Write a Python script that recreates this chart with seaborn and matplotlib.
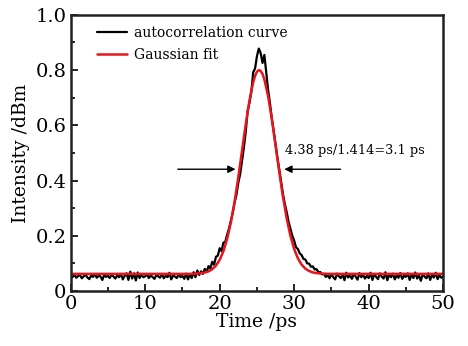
import matplotlib
matplotlib.use("Agg")
import matplotlib.pyplot as plt
import numpy as np
import pandas as pd
import seaborn as sns

# autocorrelation trace, sampled every 0.25 ps from 0 to 50 ps
trace_step = 0.25
trace_values = [
    0.055, 0.050, 0.060, 0.048, 0.054, 0.058, 0.046, 0.053, 0.059, 0.049,
    0.043, 0.056, 0.051, 0.061, 0.048, 0.055, 0.053, 0.040, 0.058, 0.051,
    0.055, 0.047, 0.060, 0.052, 0.045, 0.057, 0.050, 0.062, 0.042, 0.055,
    0.064, 0.040, 0.070, 0.045, 0.064, 0.038, 0.067, 0.047, 0.059, 0.050,
    0.053, 0.060, 0.047, 0.057, 0.050, 0.044, 0.058, 0.053, 0.048, 0.062,
    0.046, 0.055, 0.050, 0.066, 0.042, 0.057, 0.052, 0.047, 0.060, 0.050,
    0.055, 0.044, 0.063, 0.042, 0.060, 0.047, 0.068, 0.050, 0.074, 0.058,
    0.071, 0.062, 0.080, 0.070, 0.090, 0.081, 0.106, 0.095, 0.124, 0.128,
    0.155, 0.144, 0.175, 0.178, 0.204, 0.226, 0.254, 0.283, 0.320, 0.348,
    0.392, 0.423, 0.472, 0.520, 0.577, 0.652, 0.682, 0.722, 0.792, 0.806,
    0.850, 0.878, 0.862, 0.826, 0.855, 0.790, 0.728, 0.680, 0.625, 0.580,
    0.530, 0.482, 0.440, 0.395, 0.350, 0.315, 0.285, 0.250, 0.225, 0.200,
    0.182, 0.158, 0.152, 0.136, 0.130, 0.116, 0.114, 0.100, 0.099, 0.088,
    0.089, 0.078, 0.079, 0.068, 0.069, 0.060, 0.062, 0.051, 0.058, 0.046,
    0.061, 0.050, 0.042, 0.063, 0.053, 0.047, 0.060, 0.039, 0.066, 0.049,
    0.057, 0.044, 0.062, 0.052, 0.041, 0.065, 0.050, 0.058, 0.045, 0.055,
    0.047, 0.066, 0.040, 0.061, 0.051, 0.043, 0.064, 0.052, 0.045, 0.068,
    0.039, 0.060, 0.050, 0.063, 0.042, 0.057, 0.048, 0.065, 0.044, 0.055,
    0.051, 0.064, 0.040, 0.060, 0.047, 0.067, 0.045, 0.057, 0.037, 0.061,
    0.052, 0.046, 0.064, 0.040, 0.058, 0.049, 0.066, 0.043, 0.057, 0.048,
    0.053,
]

# Gaussian fit
fit_time = [0, 15, 16, 17, 18, 18.5, 19, 19.5, 20, 20.5, 21, 21.5, 22, 22.5,
            23, 23.5, 24, 24.5, 24.75, 25, 25.25, 25.5, 25.75, 26, 26.5, 27,
            27.5, 28, 28.5, 29, 29.5, 30, 30.5, 31, 31.5, 32, 32.5, 33, 34,
            35, 50]
fit_values = [0.062, 0.062, 0.062, 0.063, 0.0666, 0.071, 0.0788, 0.0919,
              0.1127, 0.144, 0.189, 0.248, 0.323, 0.412, 0.508, 0.604, 0.690,
              0.756, 0.779, 0.794, 0.800, 0.797, 0.786, 0.766, 0.706, 0.622,
              0.527, 0.430, 0.340, 0.262, 0.199, 0.152, 0.118, 0.0954, 0.0809,
              0.0722, 0.0673, 0.0646, 0.0625, 0.062, 0.062]

x_ticks = [0, 10, 20, 30, 40, 50]
y_ticks = [0, 0.2, 0.4, 0.6, 0.8, 1.0]
y_tick_labels = ["0", "0.2", "0.4", "0.6", "0.8", "1.0"]

fwhm_label = "4.38 ps/1.414=3.1 ps"
fwhm_level = 0.441
fwhm_left = (14.0, 22.5)
fwhm_right = (36.6, 28.3)


def main():
    sns.set_theme(style="ticks")
    plt.rcParams["font.family"] = ["DejaVu Serif"]
    plt.rcParams["text.color"] = "black"
    plt.rcParams["axes.labelcolor"] = "black"

    trace = pd.DataFrame({
        "time": np.arange(len(trace_values)) * trace_step,
        "intensity": trace_values,
    })
    fit = pd.DataFrame({"time": fit_time, "intensity": fit_values})

    fig = plt.figure(figsize=(4.68, 3.46), dpi=100)
    ax = fig.add_axes([0.151, 0.159, 0.796, 0.798])

    sns.lineplot(data=trace, x="time", y="intensity", ax=ax, color="black",
                 lw=1.6, estimator=None, label="autocorrelation curve")
    sns.lineplot(data=fit, x="time", y="intensity", ax=ax, color="#e8141c",
                 lw=1.8, estimator=None, label="Gaussian fit")

    ax.set_xlim(0, 50)
    ax.set_ylim(0, 1.0)
    ax.set_xticks(x_ticks)
    ax.set_yticks(y_ticks)
    ax.set_yticklabels(y_tick_labels)
    ax.set_xticks(np.arange(5, 50, 10), minor=True)
    ax.set_yticks(np.arange(0.1, 1.0, 0.2), minor=True)
    ax.tick_params(which="both", direction="in", width=1.2, labelsize=14,
                   top=False, right=False, colors="black", pad=3)
    ax.tick_params(which="major", length=5)
    ax.tick_params(which="minor", length=3)
    for s in ax.spines.values():
        s.set_linewidth(1.8)
        s.set_color("#222222")

    ax.set_xlabel("Time /ps", fontsize=13.5, labelpad=0)
    ax.set_ylabel("Intensity /dBm", fontsize=13.5, labelpad=4)

    ax.legend(loc="upper left", frameon=False, fontsize=10,
              handlelength=2.2, handletextpad=0.5, labelspacing=0.6,
              borderaxespad=0.4, bbox_to_anchor=(0.04, 1.0))

    arrow = dict(arrowstyle="-|>", color="black", lw=1.0, mutation_scale=11)
    ax.annotate("", xy=(fwhm_left[1], fwhm_level), xytext=(fwhm_left[0], fwhm_level),
                arrowprops=arrow)
    ax.annotate("", xy=(fwhm_right[1], fwhm_level), xytext=(fwhm_right[0], fwhm_level),
                arrowprops=arrow)
    ax.text(28.8, 0.507, fwhm_label, fontsize=9.3, ha="left", va="center")

    fig.savefig("out.png", dpi=100)
    plt.close(fig)


if __name__ == "__main__":
    main()
